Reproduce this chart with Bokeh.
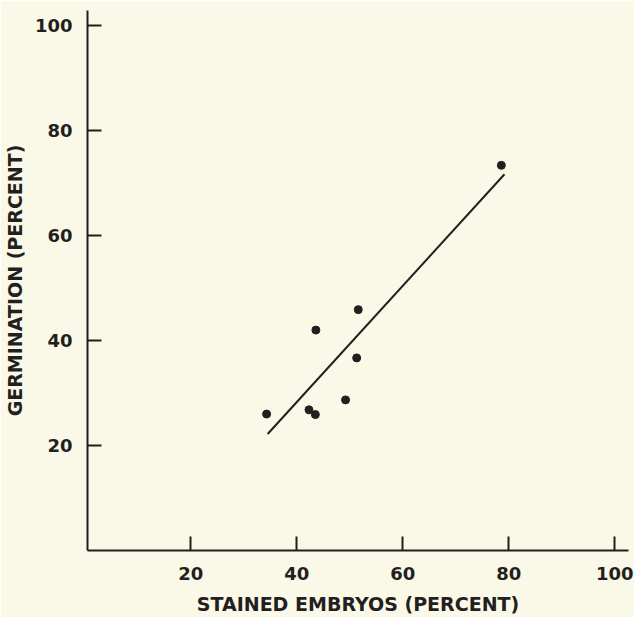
from bokeh.plotting import figure
from bokeh.models import Range1d, FixedTicker
from bokeh.embed import file_html
from bokeh.resources import INLINE

# data
stained = [34.3, 42.3, 43.5, 43.6, 49.2, 51.3, 51.6, 78.6]
germination = [26.0, 26.8, 25.9, 42.0, 28.7, 36.7, 45.9, 73.4]
fit_x = [34.5, 79.2]
fit_y = [22.2, 71.7]
x_ticks = [20, 40, 60, 80, 100]
y_ticks = [20, 40, 60, 80, 100]

BG = "#faf8e7"
INK = "#231f20"
FONT = "DejaVu Sans"

p = figure(width=634, height=617, output_backend="svg", toolbar_location=None,
           x_range=Range1d(0.5, 102.6), y_range=Range1d(0, 102.9),
           min_border_left=87, min_border_right=6, min_border_top=10, min_border_bottom=65)
p.background_fill_color = BG
p.border_fill_color = BG
p.outline_line_color = None
p.grid.visible = False

p.line(fit_x, fit_y, line_color=INK, line_width=2)
p.scatter(stained, germination, size=8, fill_color=INK, line_color=INK)

for ax, ticks in ((p.xaxis[0], x_ticks), (p.yaxis[0], y_ticks)):
    ax.ticker = FixedTicker(ticks=ticks)
    ax.minor_tick_line_color = None
    ax.major_tick_in = 14
    ax.major_tick_out = 0
    ax.axis_line_width = 2
    ax.axis_line_color = INK
    ax.major_tick_line_width = 2
    ax.major_tick_line_color = INK
    ax.major_label_text_font = FONT
    ax.major_label_text_font_size = "18px"
    ax.major_label_text_font_style = "bold"
    ax.major_label_text_color = INK
    ax.axis_label_text_font = FONT
    ax.axis_label_text_font_size = "19px"
    ax.axis_label_text_font_style = "bold"
    ax.axis_label_text_color = INK

p.xaxis.axis_label = "STAINED EMBRYOS (PERCENT)"
p.yaxis.axis_label = "GERMINATION (PERCENT)"
p.xaxis.major_label_standoff = 16
p.xaxis.axis_label_standoff = 10
p.yaxis.major_label_standoff = 15
p.yaxis.axis_label_standoff = 6

open("out.html", "w").write(file_html(p, INLINE))
